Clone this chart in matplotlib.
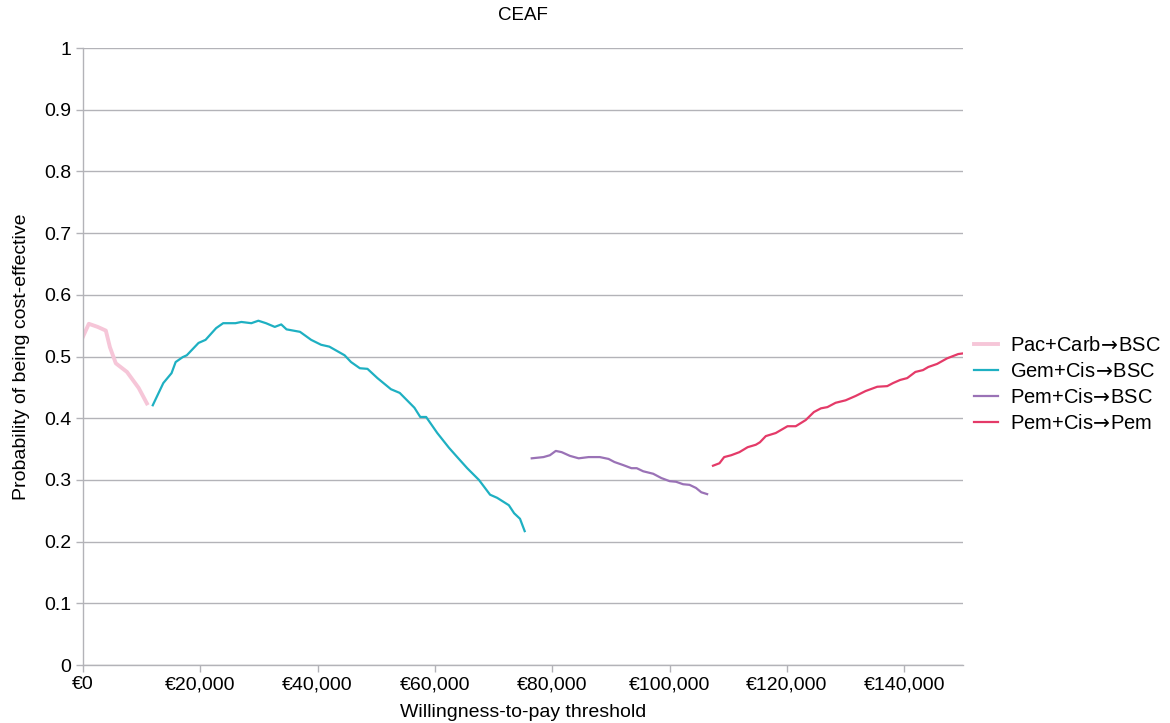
import matplotlib
matplotlib.use("Agg")
import matplotlib.pyplot as plt
from matplotlib.ticker import FuncFormatter

plt.rcParams['font.family'] = ['Liberation Sans', 'DejaVu Sans']

# willingness-to-pay (EUR) and probability
pac_x = [0, 1000, 2500, 3900, 4600, 5600, 7500, 8500, 9500, 10900]
pac_y = [0.532, 0.553, 0.548, 0.542, 0.515, 0.489, 0.475, 0.462, 0.449, 0.424]

gem_x = [11900, 13700, 15100, 15800, 17000, 17700, 19700, 20900, 22700, 23900,
         26000, 27000, 28700, 29900, 31200, 32700, 33800, 34700, 37000, 38900,
         40600, 42000, 44600, 45700, 47200, 48500, 50200, 52500, 54000, 56500,
         57500, 58500, 60400, 62400, 63800, 65500, 67500, 69400, 70600, 72600,
         73500, 74500, 75300]
gem_y = [0.421, 0.457, 0.473, 0.491, 0.499, 0.502, 0.522, 0.527, 0.546, 0.554,
         0.554, 0.556, 0.554, 0.558, 0.554, 0.548, 0.552, 0.544, 0.540, 0.527,
         0.519, 0.516, 0.502, 0.491, 0.481, 0.480, 0.465, 0.447, 0.441, 0.417,
         0.402, 0.402, 0.376, 0.352, 0.337, 0.319, 0.300, 0.276, 0.271, 0.259,
         0.246, 0.237, 0.217]

pcb_x = [76500, 78500, 79600, 80600, 81600, 83000, 84500, 86200, 88100, 89600,
         90600, 92100, 93500, 94400, 95500, 97200, 98600, 100000, 101100, 102300,
         103400, 104500, 105400, 106400]
pcb_y = [0.335, 0.337, 0.340, 0.347, 0.345, 0.339, 0.335, 0.337, 0.337, 0.334,
         0.329, 0.324, 0.319, 0.319, 0.314, 0.310, 0.303, 0.298, 0.297, 0.293,
         0.292, 0.287, 0.280, 0.277]

pcp_x = [107400, 108500, 109300, 110500, 111900, 113300, 114700, 115400, 116400,
         118100, 120100, 121500, 123200, 124600, 125800, 126900, 128300, 130000,
         131700, 133400, 135400, 137100, 138100, 139300, 140500, 141900, 143200,
         144100, 145600, 147300, 149200, 150000]
pcp_y = [0.323, 0.327, 0.337, 0.340, 0.345, 0.353, 0.357, 0.361, 0.371,
         0.376, 0.387, 0.387, 0.397, 0.410, 0.416, 0.418, 0.425, 0.429,
         0.436, 0.444, 0.451, 0.452, 0.457, 0.462, 0.465, 0.475, 0.478,
         0.483, 0.488, 0.497, 0.504, 0.505]

arrow = r'$\!\rightarrow\!$'
series = [
    ('Pac+Carb' + arrow + 'BSC', pac_x, pac_y, '#f6c6d8', 2.8),
    ('Gem+Cis' + arrow + 'BSC', gem_x, gem_y, '#1eb0c2', 1.6),
    ('Pem+Cis' + arrow + 'BSC', pcb_x, pcb_y, '#9a72b6', 1.6),
    ('Pem+Cis' + arrow + 'Pem', pcp_x, pcp_y, '#e43a68', 1.6),
]

fig = plt.figure(figsize=(11.7, 7.23), dpi=100)
ax = fig.add_axes([0.0709, 0.0802, 0.7521, 0.8534])

for label, xs, ys, color, lw in series:
    ax.plot(xs, ys, color=color, linewidth=lw, label=label)

ax.set_xlim(0, 150000)
ax.set_ylim(0, 1)
ax.set_xticks(range(0, 150000, 20000))
ax.set_yticks([i / 10 for i in range(11)])
ax.xaxis.set_major_formatter(FuncFormatter(lambda v, p: f"\u20ac{int(v):,}"))
ax.yaxis.set_major_formatter(FuncFormatter(lambda v, p: '0' if v == 0 else ('1' if v == 1 else f"{v:.1f}")))

grid_c = '#b3b3b8'
ax.grid(axis='y', color=grid_c, linewidth=1.0)
ax.set_axisbelow(True)
for s in ['top', 'right']:
    ax.spines[s].set_visible(False)
for s in ['left', 'bottom']:
    ax.spines[s].set_color(grid_c)
    ax.spines[s].set_linewidth(1.0)
ax.tick_params(axis='both', colors=grid_c, labelcolor='black', labelsize=14, length=5, width=1.0)
ax.tick_params(axis='x', pad=3)

ax.set_title('CEAF', fontsize=13.5, pad=20)
ax.set_xlabel('Willingness-to-pay threshold', fontsize=14, labelpad=8)
ax.set_ylabel('Probability of being cost-effective', fontsize=14, labelpad=10)

ax.legend(loc='center left', bbox_to_anchor=(1.003, 0.455), frameon=False,
          fontsize=14.5, handlelength=1.2, handletextpad=0.6, labelspacing=0.35,
          borderaxespad=0.0)

fig.savefig('out.png', dpi=100)
